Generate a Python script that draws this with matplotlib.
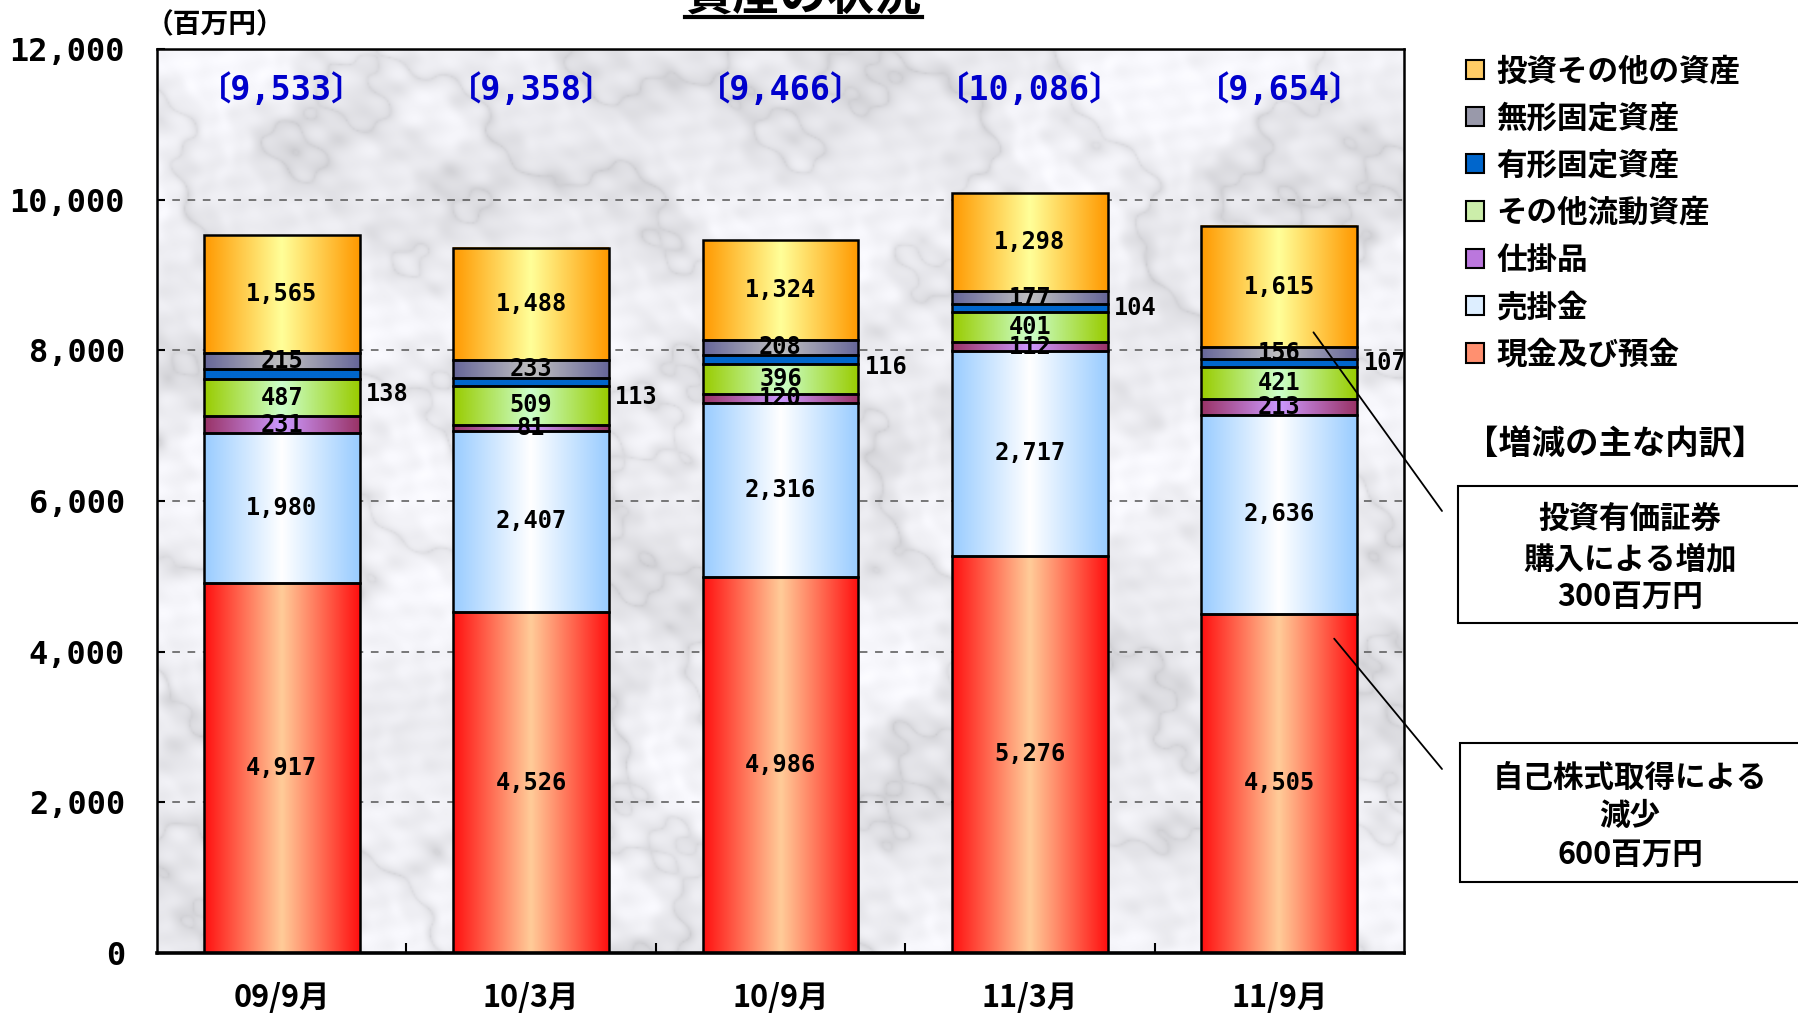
import numpy as np
import matplotlib
matplotlib.use('Agg')
import matplotlib.pyplot as plt
from matplotlib.patches import Rectangle, Patch
from matplotlib.lines import Line2D
from matplotlib.colors import to_rgb
from matplotlib.ticker import FixedLocator, FuncFormatter

plt.rcParams['font.family'] = ['Noto Sans CJK JP', 'DejaVu Sans']

# ---------------- data ----------------
periods = ['09/9月', '10/3月', '10/9月', '11/3月', '11/9月']
series_names = ['現金及び預金', '売掛金', '仕掛品', 'その他流動資産',
                '有形固定資産', '無形固定資産', '投資その他の資産']
cash = [4917, 4526, 4986, 5276, 4505]
receivables = [1980, 2407, 2316, 2717, 2636]
wip = [231, 81, 120, 112, 213]
other_current = [487, 509, 396, 401, 421]
tangible = [138, 113, 116, 104, 107]
intangible = [215, 233, 208, 177, 156]
investments = [1565, 1488, 1324, 1298, 1615]
totals = [9533, 9358, 9466, 10086, 9654]
yticks = [0, 2000, 4000, 6000, 8000, 10000, 12000]

series_values = [cash, receivables, wip, other_current, tangible, intangible, investments]

# styles
edge_colors = ['#FF1010', '#99CCFF', '#993366', '#99CC00', '#0066CC', '#666699', '#FF9900']
center_colors = ['#FFCC99', '#FFFFFF', '#CC99FF', '#CCFFCC', '#0066CC', '#C0C0C0', '#FFFF99']
legend_colors = ['#FF9070', '#DDEEFF', '#BB77DD', '#CCEEAA', '#0066CC', '#9999AA', '#FFCC66']
tangible_label_dy = [-260, -200, -100, 0, 0]

NUMF = ['DejaVu Sans Mono', 'Noto Sans CJK JP']

W, H = 1799, 1013
fig = plt.figure(figsize=(W / 100, H / 100), dpi=100)
ax = fig.add_axes([157 / W, 1 - 953 / H, (1404 - 157) / W, (953 - 49) / H])

# ---------------- marble-like background ----------------
xs = np.linspace(0, 1, 700)
ys = np.linspace(0, 1, 520)
X, Y = np.meshgrid(xs, ys)
turb = (0.5 * np.sin(7 * X + 4 * Y) + 0.35 * np.sin(17 * X - 11 * Y + 1.3)
        + 0.22 * np.sin(31 * X + 23 * Y + 2.1) + 0.14 * np.sin(61 * X - 47 * Y + 0.7)
        + 0.08 * np.sin(113 * X + 97 * Y) + 0.05 * np.sin(199 * X - 167 * Y + 1.9))
vein = np.abs(np.sin(14 * X - 9 * Y + 2.6 * turb))
blot = 0.5 + 0.5 * np.sin(9 * X + 13 * Y + 2.0 * turb)
fine = 0.5 + 0.5 * np.sin(150 * X + 110 * Y + 5 * turb) * np.sin(90 * X - 130 * Y + 3 * turb)
shade = 0.79 + 0.13 * vein ** 0.4 + 0.05 * blot + 0.03 * fine
shade = np.clip(shade, 0, 1)
tex = np.dstack([shade * 0.99, shade * 0.99, np.clip(shade * 1.01, 0, 1)])
ax.imshow(tex, extent=[0, 1, 0, 1], transform=ax.transAxes, aspect='auto',
          zorder=0, interpolation='bilinear')

# ---------------- bars ----------------
x = np.arange(len(periods))
bw = 0.625
bottoms = np.zeros(len(periods))
prof = 1 - np.abs(np.linspace(-1, 1, 200))
for i, vals in enumerate(series_values):
    bars = ax.bar(x, vals, bottom=bottoms, width=bw, facecolor='none',
                  edgecolor='black', linewidth=1.8, zorder=3)
    e = np.array(to_rgb(edge_colors[i]))
    c = np.array(to_rgb(center_colors[i]))
    grad = e[None, :] + (c - e)[None, :] * prof[:, None]
    grad = grad[None, :, :]
    for j, p in enumerate(bars.patches):
        x0, y0 = p.get_x(), p.get_y()
        x1, y1 = x0 + p.get_width(), y0 + p.get_height()
        ax.imshow(grad, extent=[x0, x1, y0, y1], aspect='auto', zorder=2,
                  interpolation='bilinear')
        v = vals[j]
        if series_names[i] == '有形固定資産':
            ax.text(x1 + 0.025, (y0 + y1) / 2 + tangible_label_dy[j], f'{v:,}',
                    ha='left', va='center', fontsize=17, family=NUMF,
                    weight='bold', zorder=5)
        else:
            ax.text((x0 + x1) / 2, (y0 + y1) / 2, f'{v:,}', ha='center',
                    va='center', fontsize=17, family=NUMF, weight='bold', zorder=5)
    bottoms = bottoms + np.array(vals)

for j, t in enumerate(totals):
    ax.text(x[j], 11450, f'〔{t:,}〕', ha='center', va='center', fontsize=24,
            family=NUMF, weight='bold', color='#0000CC', zorder=5)

# ---------------- axes ----------------
ax.set_xlim(-0.5, len(periods) - 0.5)
ax.set_ylim(0, 12000)
ax.yaxis.set_major_locator(FixedLocator(yticks))
ax.yaxis.set_major_formatter(FuncFormatter(lambda v, p: f'{int(v):,}'))
ax.set_xticks(x)
ax.set_xticklabels(periods)
ax.set_xticks(x[:-1] + 0.5, minor=True)
ax.tick_params(axis='x', which='major', length=0, pad=21, labelsize=22)
ax.tick_params(axis='x', which='minor', direction='in', length=7, width=1.5)
ax.tick_params(axis='y', direction='in', length=6, width=1.5, pad=23, labelsize=23)
for lab in ax.get_xticklabels():
    lab.set_fontweight('bold')
for lab in ax.get_yticklabels():
    lab.set_family(NUMF)
    lab.set_fontweight('bold')

ax.set_axisbelow(True)
ax.yaxis.grid(True, color='#555555', linestyle=(0, (5, 5)), linewidth=1.1)
for s in ['left', 'top', 'right']:
    ax.spines[s].set_linewidth(1.8)
ax.spines['bottom'].set_linewidth(2.6)

# ---------------- legend ----------------
handles = [Patch(facecolor=legend_colors[i], edgecolor='black', linewidth=1.5)
           for i in range(len(series_names))][::-1]
leg = ax.legend(handles, series_names[::-1], loc='upper left',
                bbox_to_anchor=(1466 / W, 1 - 55 / H), bbox_transform=fig.transFigure,
                frameon=False, prop={'size': 22, 'weight': 'bold'},
                handlelength=0.6, handleheight=0.6, handletextpad=0.4,
                labelspacing=0.5, borderaxespad=0, borderpad=0)

# ---------------- annotations ----------------
fig.text(803 / W, 1 - 10 / H, '資産の状況', ha='center', va='baseline',
         fontsize=34, weight='bold')
fig.add_artist(Line2D([685 / W, 922 / W], [1 - 17 / H, 1 - 17 / H],
                      color='black', linewidth=3, transform=fig.transFigure))
fig.text(215 / W, 1 - 25 / H, '（百万円）', ha='center', va='center',
         fontsize=20, weight='bold')
fig.text(1615 / W, 1 - 445 / H, '【増減の主な内訳】', ha='center', va='center',
         fontsize=24, weight='bold')

for (bx0, by0, by1) in [(1458, 486, 623), (1460, 743, 882)]:
    fig.add_artist(Rectangle((bx0 / W, 1 - by1 / H), (1850 - bx0) / W, (by1 - by0) / H,
                             transform=fig.transFigure, facecolor='white',
                             edgecolor='black', linewidth=1.5, clip_on=False))

box1_lines = ['投資有価証券', '購入による増加', '300百万円']
box2_lines = ['自己株式取得による', '減少', '600百万円']
for txt, yy in zip(box1_lines, [519, 559, 597]):
    fig.text(1630 / W, 1 - yy / H, txt, ha='center', va='center', fontsize=22, weight='bold')
for txt, yy in zip(box2_lines, [778, 816, 855]):
    fig.text(1630 / W, 1 - yy / H, txt, ha='center', va='center', fontsize=22, weight='bold')

ax.annotate('', xy=(4.137, 8239), xytext=(1442, H - 511), textcoords='figure pixels',
            arrowprops=dict(arrowstyle='-', color='black', lw=1.3, shrinkA=0, shrinkB=0),
            annotation_clip=False, zorder=6)
ax.annotate('', xy=(4.22, 4173), xytext=(1442, H - 769), textcoords='figure pixels',
            arrowprops=dict(arrowstyle='-', color='black', lw=1.3, shrinkA=0, shrinkB=0),
            annotation_clip=False, zorder=6)

fig.savefig('out.png', dpi=100)
